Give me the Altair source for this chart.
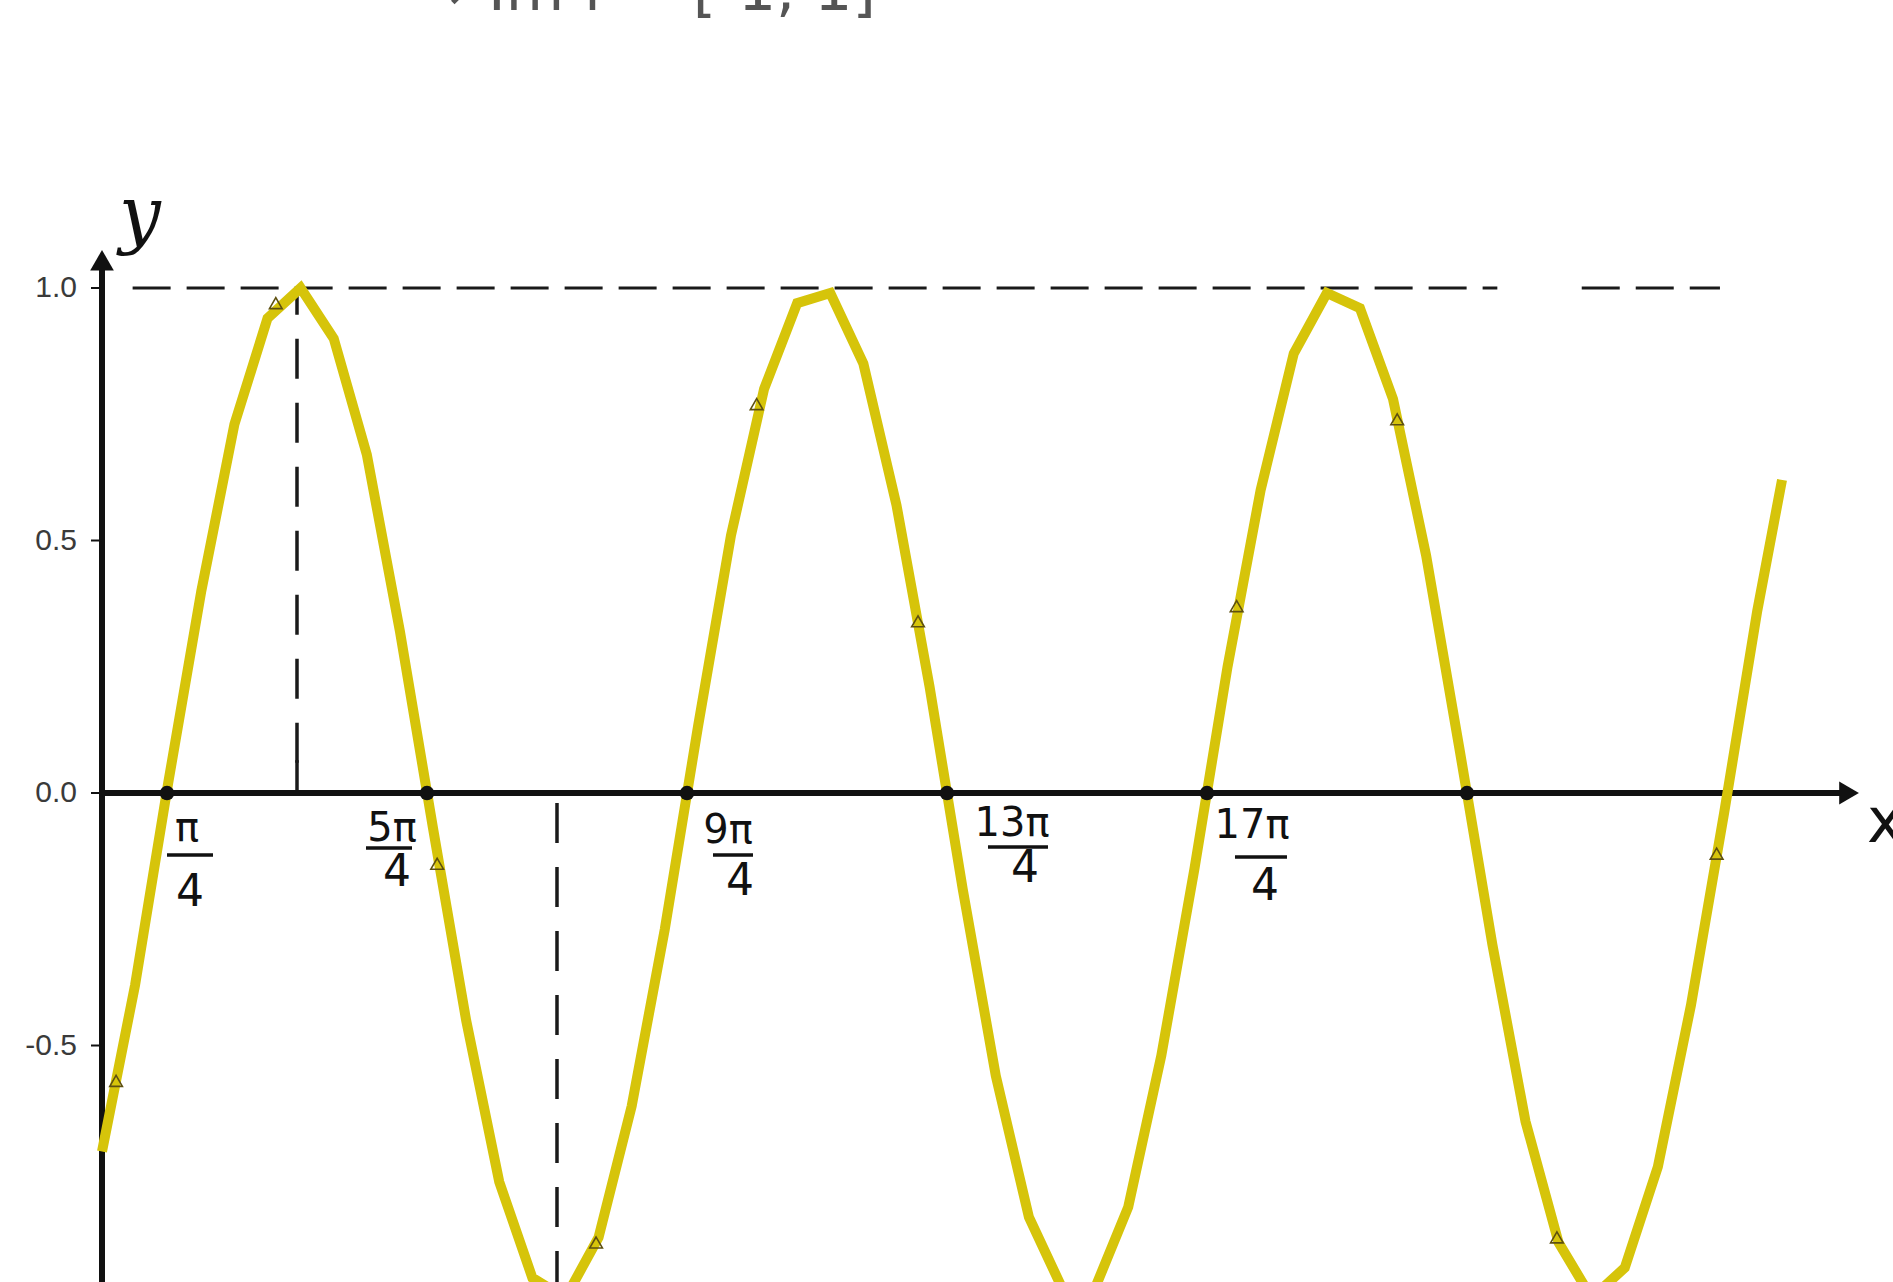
import math
import altair as alt
import pandas as pd

# ---- data -----------------------------------------------------------------
# f(x) sampled as drawn (polyline vertices)
curve_x = [0.0, 0.4, 0.8, 1.2, 1.6, 2.0, 2.4, 2.8, 3.2, 3.6, 4.0, 4.4, 4.8,
           5.2, 5.6, 6.0, 6.4, 6.8, 7.2, 7.6, 8.0, 8.4, 8.8, 9.2, 9.6, 10.0,
           10.4, 10.8, 11.2, 11.6, 12.0, 12.4, 12.8, 13.2, 13.6, 14.0, 14.4,
           14.8, 15.2, 15.6, 16.0, 16.4, 16.8, 17.2, 17.6, 18.0, 18.4, 18.8,
           19.2, 19.6, 20.0, 20.3]
curve_y = [-0.71, -0.38, 0.02, 0.40, 0.73, 0.94, 1.00, 0.90, 0.67, 0.32,
           -0.07, -0.45, -0.77, -0.96, -1.00, -0.88, -0.62, -0.27, 0.13, 0.51,
           0.80, 0.97, 0.99, 0.85, 0.57, 0.21, -0.19, -0.56, -0.84, -0.98,
           -0.98, -0.82, -0.52, -0.15, 0.25, 0.60, 0.87, 0.99, 0.96, 0.78,
           0.47, 0.09, -0.30, -0.65, -0.89, -1.00, -0.94, -0.74, -0.42, -0.04,
           0.36, 0.62]

# sample points marked with small triangles
marker_x = [0.17, 2.10, 4.05, 5.97, 7.91, 9.86, 11.79, 13.71, 15.65, 17.58, 19.51]
marker_y = [-0.57, 0.97, -0.14, -0.89, 0.77, 0.34, -1.00, 0.37, 0.74, -0.88, -0.12]

# zeros of f, labelled as multiples of pi/4
root_n = [1, 5, 9, 13, 17, 21]
root_x = [math.pi * n / 4 for n in root_n]
label_num = ["π", "5π", "9π", "13π", "17π"]
label_den = ["4", "4", "4", "4", "4"]

# extremum guides
peak_x = 3 * math.pi / 4
trough_x = 7 * math.pi / 4
max_segments = [(0.37, 16.86), (17.88, 19.55)]

y_ticks = [1.0, 0.5, 0.0, -0.5, -1.0]
y_tick_labels = ["1.0", "0.5", "0.0", "-0.5", "-1.0"]

# ---- layout ---------------------------------------------------------------
W, H = 1893, 1282
xs = alt.Scale(domain=[-1.2325, 21.641], nice=False, zero=False)
ys = alt.Scale(domain=[-0.9683, 1.5703], nice=False, zero=False)

INK = "#111111"
CURVE = "#d6c40a"
HAND = "DejaVu Sans"


def X(field, **kw):
    return alt.X(field, type="quantitative", scale=xs, axis=None, **kw)


def Y(field, **kw):
    return alt.Y(field, type="quantitative", scale=ys, axis=None, **kw)


def pt(x, y, **extra):
    d = {"x": [x], "y": [y]}
    d.update({k: [v] for k, v in extra.items()})
    return pd.DataFrame(d)


curve_df = pd.DataFrame({"x": curve_x, "y": curve_y})
marker_df = pd.DataFrame({"x": marker_x, "y": marker_y})
root_df = pd.DataFrame({"x": root_x, "y": [0.0] * len(root_x)})
ytick_df = pd.DataFrame({"x": [0.0] * len(y_ticks), "y": y_ticks, "t": y_tick_labels})

# dashed guide at the maximum value
hguide = alt.Chart(pd.DataFrame({
    "x": [a for a, _ in max_segments],
    "x2": [b for _, b in max_segments],
    "y": [1.0] * len(max_segments),
})).mark_rule(strokeDash=[38, 16], strokeWidth=3, color="#1a1a1a").encode(
    x=X("x"), x2="x2", y=Y("y"))

# dashed drops from the first max and first min to the x-axis
vguide = alt.Chart(pd.DataFrame({
    "x": [peak_x, trough_x],
    "y": [0.06, -0.02],
    "y2": [1.0, -1.05],
})).mark_rule(strokeDash=[40, 24], strokeWidth=3.5, color="#1a1a1a").encode(
    x=X("x"), y=Y("y"), y2="y2")

vtick = alt.Chart(pt(peak_x, 0.0, y2=0.065)).mark_rule(
    strokeWidth=3.5, color="#1a1a1a").encode(x=X("x"), y=Y("y"), y2="y2")

# axes with arrowheads
x_axis = alt.Chart(pd.DataFrame({"x": [0.0], "x2": [21.05], "y": [0.0]})).mark_rule(
    strokeWidth=6, color=INK).encode(x=X("x"), x2="x2", y=Y("y"))
y_axis = alt.Chart(pd.DataFrame({"x": [0.0], "y": [-1.1], "y2": [1.04]})).mark_rule(
    strokeWidth=6, color=INK).encode(x=X("x"), y=Y("y"), y2="y2")
x_head = alt.Chart(pt(21.11, 0.0)).mark_point(
    shape="triangle-right", filled=True, size=520, color=INK, opacity=1).encode(
    x=X("x"), y=Y("y"))
y_head = alt.Chart(pt(0.0, 1.055)).mark_point(
    shape="triangle-up", filled=True, size=560, color=INK, opacity=1).encode(
    x=X("x"), y=Y("y"))

# y-axis ticks and their labels
y_tick_marks = alt.Chart(ytick_df).mark_rule(
    strokeWidth=2, color=INK, xOffset=-11, x2Offset=0).encode(
    x=X("x"), x2="x", y=Y("y"))
y_tick_text = alt.Chart(ytick_df).mark_text(
    font="Liberation Sans", fontSize=30, color="#3a3a3a",
    align="right", baseline="middle", dx=-25).encode(
    x=X("x"), y=Y("y"), text="t:N")

# the graph of f
curve = alt.Chart(curve_df).mark_line(
    color=CURVE, strokeWidth=10, strokeJoin="miter").encode(
    x=X("x"), y=Y("y"), order="x:Q")

markers = alt.Chart(marker_df).mark_point(
    shape="triangle-up", filled=False, size=160, color="#5e5010",
    strokeWidth=1.6, opacity=1).encode(x=X("x"), y=Y("y"))

roots = alt.Chart(root_df).mark_circle(size=210, color=INK, opacity=1).encode(
    x=X("x"), y=Y("y"))

# hand-lettered fraction labels next to the zeros
num_off = [(20, 36), (-35, 36), (41, 38), (65, 31), (45, 33)]
bar_off = [(23, 62), (-38, 55), (46, 62), (71, 54), (54, 64)]
bar_len = [46, 46, 40, 60, 52]
den_off = [(23, 100), (-30, 80), (53, 89), (78, 76), (58, 94)]

frac_layers = []
for i, (num, den) in enumerate(zip(label_num, label_den)):
    base = pt(root_x[i], 0.0, num=num, den=den)
    frac_layers.append(alt.Chart(base).mark_text(
        font=HAND, fontSize=40, color=INK, align="center", baseline="middle",
        dx=num_off[i][0], dy=num_off[i][1]).encode(
        x=X("x"), y=Y("y"), text="num:N"))
    frac_layers.append(alt.Chart(base).mark_rule(
        color=INK, strokeWidth=3.5,
        xOffset=bar_off[i][0] - bar_len[i] / 2,
        x2Offset=bar_off[i][0] + bar_len[i] / 2,
        yOffset=bar_off[i][1]).encode(
        x=X("x"), x2="x", y=Y("y")))
    frac_layers.append(alt.Chart(base).mark_text(
        font=HAND, fontSize=44, color=INK, align="center", baseline="middle",
        dx=den_off[i][0], dy=den_off[i][1]).encode(
        x=X("x"), y=Y("y"), text="den:N"))

# axis names
y_name = alt.Chart(pt(0.0, 1.074, t="y")).mark_text(
    font="DejaVu Serif", fontStyle="italic", fontSize=74, color=INK,
    align="center", baseline="middle", dx=38, dy=-34).encode(
    x=X("x"), y=Y("y"), text="t:N")
x_name = alt.Chart(pt(21.23, 0.0, t="x")).mark_text(
    font=HAND, fontSize=62, color=INK, align="left", baseline="middle",
    dx=8, dy=30).encode(x=X("x"), y=Y("y"), text="t:N")

# conclusion line above the graph
range_note = alt.Chart(pd.DataFrame({"t": ["\u27f6  Im f = [-1, 1]"]})).mark_text(
    font=HAND, fontSize=60, color="#555555", align="left",
    baseline="alphabetic").encode(
    x=alt.value(383), y=alt.value(10), text="t:N")

chart = alt.layer(
    hguide, vguide, vtick, x_axis, y_axis, x_head, y_head,
    y_tick_marks, y_tick_text,
    curve, markers, roots, *frac_layers, y_name, x_name, range_note,
).properties(
    width=W, height=H,
    autosize=alt.AutoSizeParams(type="none"),
    padding=0,
    background="white",
).configure_view(stroke=None)

chart.save("out.html", embed_options={"renderer": "svg", "actions": False})
